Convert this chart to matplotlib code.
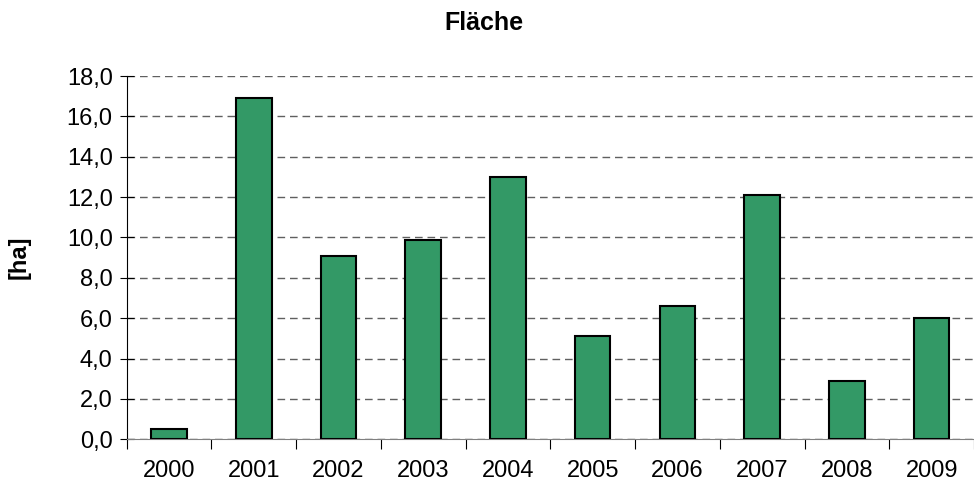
import matplotlib
matplotlib.use("Agg")
import matplotlib.pyplot as plt
from matplotlib.ticker import FuncFormatter, MultipleLocator

years = ["2000", "2001", "2002", "2003", "2004", "2005", "2006", "2007", "2008", "2009"]
flaeche = [0.5, 16.9, 9.1, 9.9, 13.0, 5.1, 6.6, 12.1, 2.9, 6.0]

plt.rcParams["font.family"] = ["Liberation Sans", "DejaVu Sans"]

fig = plt.figure(figsize=(9.74, 4.88), dpi=100)
ax = fig.add_axes([0.130, 0.100, 0.870, 0.744])

x = list(range(len(years)))
ax.bar(x, flaeche, width=0.42, color="#339966", edgecolor="black", linewidth=1.5, zorder=3)

ax.set_xlim(-0.5, len(years) - 0.5)
ax.set_ylim(0, 18)
ax.yaxis.set_major_locator(MultipleLocator(2))
ax.yaxis.set_major_formatter(FuncFormatter(lambda v, p: f"{v:.1f}".replace(".", ",")))
ax.grid(axis="y", color="#606060", linestyle=(0, (5.5, 3.5)), linewidth=1, zorder=0)

ax.set_xticks([i - 0.5 for i in range(len(years) + 1)])
ax.set_xticklabels([])
ax.set_xticks(x, minor=True)
ax.set_xticklabels(years, minor=True, fontsize=17)
ax.tick_params(axis="x", which="minor", length=0, pad=15)
ax.tick_params(axis="x", which="major", direction="out", length=7, color="black")
ax.tick_params(axis="y", direction="inout", length=10, labelsize=17, pad=5)

for s in ["top", "right"]:
    ax.spines[s].set_visible(False)
ax.spines["left"].set_color("black")
ax.spines["bottom"].set_color("#808080")

ax.set_ylabel("[ha]", fontsize=17, fontweight="bold", labelpad=26)
fig.text(0.497, 0.953, "Fläche", ha="center", va="center", fontsize=18, fontweight="bold")

fig.savefig("out.png", dpi=100)
